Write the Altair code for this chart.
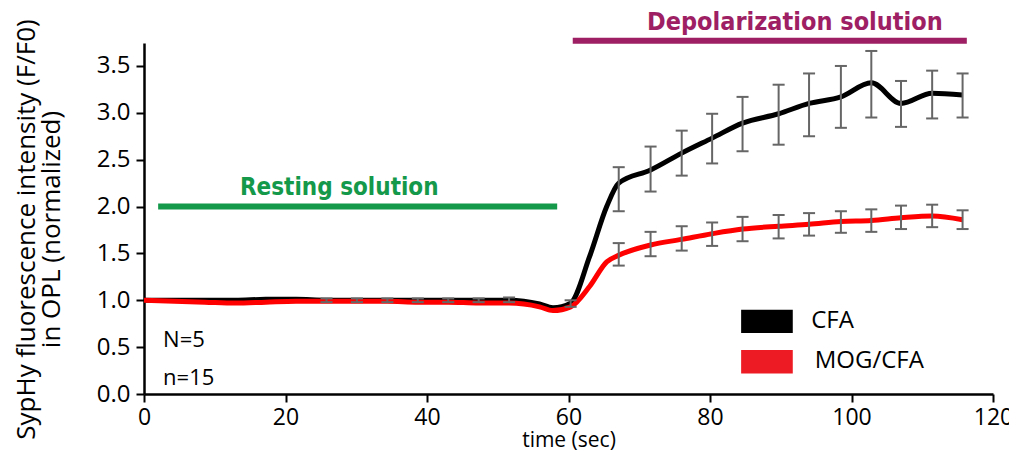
import altair as alt
import pandas as pd

# ---- data ----
t_line = [0, 4.3, 8.6, 12.9, 17.2, 21.5, 25.8, 30.1, 34.4, 38.7, 43.0, 47.3, 51.6, 55.9, 57.8,
          60.3, 63.0, 65.4, 67.1, 71.6, 76.0, 80.3, 84.6, 89.7, 94.0, 98.5, 102.8, 107.0, 111.4, 115.7]
cfa_line = [1.0, 1.0, 1.0, 1.0, 1.01, 1.01, 1.0, 1.0, 1.0, 1.0, 1.0, 1.0, 1.0, 0.96, 0.92,
            0.97, 1.47, 2.0, 2.25, 2.39, 2.57, 2.73, 2.89, 2.99, 3.10, 3.17, 3.32, 3.10, 3.21, 3.19]
mog_line = [1.0, 0.99, 0.98, 0.97, 0.98, 0.99, 0.99, 0.99, 0.99, 0.98, 0.98, 0.97, 0.97, 0.93, 0.89,
            0.93, 1.15, 1.41, 1.48, 1.59, 1.65, 1.71, 1.76, 1.79, 1.81, 1.84, 1.85, 1.88, 1.90, 1.86]

t_err_cfa = [25.8, 30.1, 34.4, 38.7, 43.0, 47.3, 51.6, 60.3,
             67.1, 71.6, 76.0, 80.3, 84.6, 89.7, 94.0, 98.5, 102.8, 107.0, 111.4, 115.7]
cfa_lo = [0.98, 0.98, 0.98, 0.98, 0.98, 0.98, 0.98, 0.93,
          1.95, 2.16, 2.33, 2.46, 2.59, 2.66, 2.75, 2.84, 2.95, 2.85, 2.94, 2.95]
cfa_hi = [1.02, 1.02, 1.02, 1.02, 1.02, 1.02, 1.03, 1.0,
          2.42, 2.64, 2.81, 2.99, 3.17, 3.30, 3.42, 3.50, 3.66, 3.34, 3.45, 3.42]

t_err_mog = [67.1, 71.6, 76.0, 80.3, 84.6, 89.7, 94.0, 98.5, 102.8, 107.0, 111.4, 115.7]
mog_lo = [1.37, 1.47, 1.53, 1.58, 1.63, 1.66, 1.69, 1.72, 1.73, 1.76, 1.78, 1.76]
mog_hi = [1.61, 1.73, 1.79, 1.83, 1.89, 1.91, 1.93, 1.95, 1.97, 2.01, 2.02, 1.96]

series = ["CFA", "MOG/CFA"]
x_ticks = [0, 20, 40, 60, 80, 100, 120]
y_ticks = [0.0, 0.5, 1.0, 1.5, 2.0, 2.5, 3.0, 3.5]

# annotation bars (time span, level)
rest_span = [2.0, 58.4]
rest_level = 2.0
depol_span = [60.6, 116.3]
depol_level = 3.77

# legend boxes
leg_x = [84.4, 91.7]
leg_cfa_y = [0.65, 0.90]
leg_mog_y = [0.22, 0.47]

NARROW = "Liberation Sans Narrow, DejaVu Sans Condensed, sans-serif"
REG = "Open Sans, sans-serif"
GREEN = "#14984a"
MAGENTA = "#9e1f63"

line_df = pd.DataFrame({
    "t": t_line * 2,
    "v": cfa_line + mog_line,
    "s": [series[0]] * len(t_line) + [series[1]] * len(t_line),
})
err_df = pd.DataFrame({
    "t": t_err_cfa + t_err_mog,
    "lo": cfa_lo + mog_lo,
    "hi": cfa_hi + mog_hi,
})

xs = alt.Scale(domain=[0, 120], nice=False)
ys = alt.Scale(domain=[0, 3.745], nice=False)

X_AXIS = alt.Axis(
    values=x_ticks, title="time (sec)", grid=False, labelFont=REG, labelFontSize=23,
    titleFont=REG, titleFontSize=21, titleFontWeight="normal", titlePadding=0,
    labelPadding=4, tickSize=8, tickWidth=2, domainWidth=2.5, domainColor="black",
    tickColor="black", labelColor="black", titleColor="black", labelFlush=False)
Y_AXIS = alt.Axis(
    values=y_ticks, format=".1f", title=["SypHy fluorescence intensity  (F/F0)", "in OPL (normalized)"],
    grid=False, labelFont=REG, labelFontSize=24, titleFont=REG, titleFontSize=26,
    titleFontWeight="normal", titlePadding=32, titleLineHeight=25, titleY=186, tickSize=8, tickWidth=2,
    domainWidth=2.5, domainColor="black", tickColor="black", labelColor="black",
    titleColor="black", labelPadding=6)


def X(f):
    return alt.X(f, scale=xs, axis=X_AXIS)


def Y(f):
    return alt.Y(f, scale=ys, axis=Y_AXIS)


base = alt.Chart(err_df)
err_rule = base.mark_rule(color="#666666", strokeWidth=2).encode(
    x=X("t:Q"), y=Y("lo:Q"), y2="hi:Q")
caps = base.transform_calculate(a="datum.t - 0.85", b="datum.t + 0.85").transform_fold(
    ["lo", "hi"], as_=["k", "yv"])
err_caps = caps.mark_rule(color="#666666", strokeWidth=2).encode(
    x=X("a:Q"), x2="b:Q", y=Y("yv:Q"))

lines = alt.Chart(line_df).mark_line(strokeWidth=5, interpolate="monotone").encode(
    x=X("t:Q"), y=Y("v:Q"),
    color=alt.Color("s:N", scale=alt.Scale(domain=series, range=["#000000", "#ff0000"]), legend=None),
    detail="s:N")

# annotation bars
bar_df = pd.DataFrame({
    "x1": [rest_span[0], depol_span[0]], "x2": [rest_span[1], depol_span[1]],
    "y": [rest_level, depol_level], "c": ["rest", "depol"]})
bars = alt.Chart(bar_df).mark_rule(strokeWidth=6).encode(
    x=X("x1:Q"), x2="x2:Q", y=Y("y:Q"),
    color=alt.Color("c:N", scale=alt.Scale(domain=["rest", "depol"], range=[GREEN, MAGENTA]), legend=None))

rest_txt = alt.Chart(pd.DataFrame({"t": [27.6], "v": [2.2], "l": ["Resting solution"]})).mark_text(
    font=NARROW, fontSize=24, fontWeight="bold", color=GREEN, baseline="middle").encode(
    x=X("t:Q"), y=Y("v:Q"), text="l:N")
depol_txt = alt.Chart(pd.DataFrame({"t": [92.0], "v": [3.97], "l": ["Depolarization solution"]})).mark_text(
    font=NARROW, fontSize=25, fontWeight="bold", color=MAGENTA, baseline="middle").encode(
    x=X("t:Q"), y=Y("v:Q"), text="l:N")

n_txt = alt.Chart(pd.DataFrame({"t": [2.7, 2.7], "v": [0.58, 0.17], "l": ["N=5", "n=15"]})).mark_text(
    font=REG, fontSize=22, color="black", align="left", baseline="middle").encode(
    x=X("t:Q"), y=Y("v:Q"), text="l:N")

leg_df = pd.DataFrame({
    "x1": [leg_x[0]] * 2, "x2": [leg_x[1]] * 2,
    "y1": [leg_cfa_y[0], leg_mog_y[0]], "y2": [leg_cfa_y[1], leg_mog_y[1]], "s": series})
leg_rect = alt.Chart(leg_df).mark_rect().encode(
    x=X("x1:Q"), x2="x2:Q", y=Y("y1:Q"), y2="y2:Q",
    color=alt.Color("s:N", scale=alt.Scale(domain=series, range=["#000000", "#ed1c24"]), legend=None))
leg_txt = alt.Chart(pd.DataFrame({"t": [94.3, 94.8], "v": [0.78, 0.35], "l": series})).mark_text(
    font=REG, fontSize=24, color="black", align="left", baseline="middle").encode(
    x=X("t:Q"), y=Y("v:Q"), text="l:N")

chart = alt.layer(
    lines, err_rule, err_caps, bars, rest_txt, depol_txt, n_txt, leg_rect, leg_txt
).resolve_scale(color="independent").properties(
    width=849, height=351,
    autosize=alt.AutoSizeParams(type="none"),
    padding={"left": 136, "top": 35, "right": 16, "bottom": 57},
).configure_view(strokeWidth=0)

chart.save("out.html", embed_options={"renderer": "svg", "actions": False})
